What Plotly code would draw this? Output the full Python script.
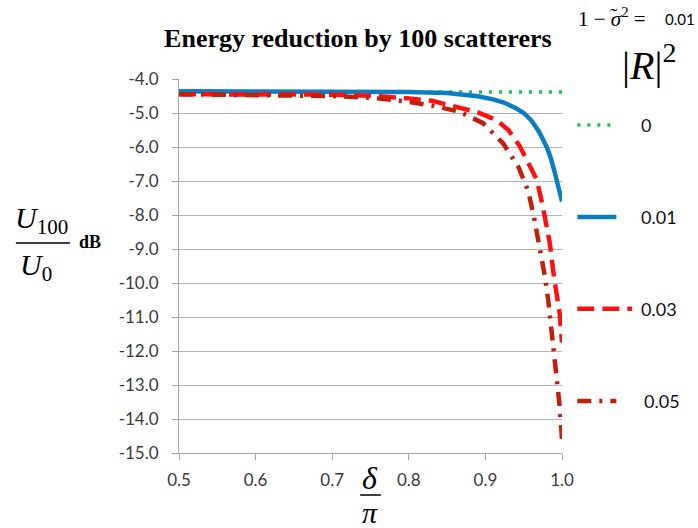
import plotly.graph_objects as go

# Energy reduction (dB) vs delta/pi for four reflection levels |R|^2
series_names = ["0", "0.01", "0.03", "0.05"]

x_r000 = [0.5, 0.6, 0.7, 0.8, 0.9, 1.0]
y_r000 = [-4.38, -4.38, -4.38, -4.38, -4.38, -4.38]

x_r001 = [0.5, 0.6, 0.7, 0.8, 0.85, 0.87, 0.89, 0.91, 0.925, 0.94, 0.95,
          0.96, 0.97, 0.98, 0.985, 0.99, 0.995, 1.0]
y_r001 = [-4.36, -4.36, -4.37, -4.38, -4.41, -4.45, -4.51, -4.6, -4.7, -4.86,
          -5.0, -5.22, -5.55, -6.0, -6.3, -6.7, -7.1, -7.6]

x_r003 = [0.5, 0.6, 0.7, 0.75, 0.775, 0.8, 0.83, 0.862, 0.89, 0.914, 0.93,
          0.945, 0.955, 0.967, 0.975, 0.984, 0.99, 0.997, 1.0]
y_r003 = [-4.45, -4.45, -4.46, -4.49, -4.52, -4.57, -4.64, -4.81, -4.98, -5.2,
          -5.5, -5.98, -6.4, -6.96, -7.75, -8.82, -9.9, -10.9, -11.75]

x_r005 = [0.5, 0.6, 0.7, 0.75, 0.797, 0.83, 0.866, 0.897, 0.923, 0.943, 0.956,
          0.964, 0.971, 0.977, 0.982, 0.986, 0.99, 0.993, 0.997, 1.0]
y_r005 = [-4.45, -4.46, -4.5, -4.55, -4.66, -4.78, -4.96, -5.3, -5.89, -6.58,
          -7.3, -8.13, -8.93, -9.72, -10.5, -11.3, -12.1, -12.93, -13.63, -14.6]

x_tick_vals = [0.5, 0.6, 0.7, 0.8, 0.9, 1.0]
x_tick_text = ["0.5", "0.6", "0.7", "0.8", "0.9", "1.0"]
y_tick_vals = [-4, -5, -6, -7, -8, -9, -10, -11, -12, -13, -14, -15]
y_tick_text = ["-4.0", "-5.0", "-6.0", "-7.0", "-8.0", "-9.0", "-10.0",
               "-11.0", "-12.0", "-13.0", "-14.0", "-15.0"]

xs = [x_r000, x_r001, x_r003, x_r005]
ys = [y_r000, y_r001, y_r003, y_r005]
colors = ["#1DC254", "#0B7DC2", "#FF1010", "#C0200A"]
dashes = ["3px,7px", "solid", "17px,8px", "14px,8px,3px,8px"]
widths = [3.5, 4.5, 4.5, 4.5]
# legend sample lengths (paper units) and row heights (data units)
sample_len = [0.097, 0.102, 0.143, 0.102]
legend_row = [-5.35, -8.06, -10.76, -13.47]

SANS = "Lato, 'Open Sans', sans-serif"
SERIF = "'Liberation Serif', 'Times New Roman', serif"
TICK_FONT = dict(family=SANS, size=17, color="#3a3a3a")

fig = go.Figure()
for i in range(4):
    fig.add_trace(go.Scatter(
        x=xs[i], y=ys[i], mode="lines", name=series_names[i],
        line=dict(color=colors[i], width=widths[i], dash=dashes[i]),
        showlegend=False,
    ))

shapes = []
annotations = []

# Hand-built legend on the right of the plot
for i in range(4):
    x0 = 1.04
    shapes.append(dict(type="line", xref="paper", yref="y",
                       x0=x0, x1=x0 + sample_len[i],
                       y0=legend_row[i], y1=legend_row[i],
                       line=dict(color=colors[i], width=widths[i], dash=dashes[i])))
    annotations.append(dict(xref="paper", yref="y",
                            x=1.202 if i != 3 else 1.21, y=legend_row[i],
                            text=series_names[i], showarrow=False,
                            xanchor="left", yanchor="middle",
                            font=dict(family=SANS, size=18, color="#111")))

# Legend heading: 1 - sigma~^2 = 0.01 and |R|^2
annotations.append(dict(xref="paper", yref="paper", x=1.036, y=1.165,
                        text="1 − <i>σ</i><sup>2</sup> =", showarrow=False,
                        xanchor="left", yanchor="middle",
                        font=dict(family=SERIF, size=21, color="#000")))
annotations.append(dict(xref="paper", yref="paper", x=1.137, y=1.171,
                        text="˜", showarrow=False,
                        xanchor="center", yanchor="middle",
                        font=dict(family=SERIF, size=22, color="#000")))
annotations.append(dict(xref="paper", yref="paper", x=1.263, y=1.16,
                        text="0.01", showarrow=False,
                        xanchor="left", yanchor="middle",
                        font=dict(family=SANS, size=15, color="#000")))
annotations.append(dict(xref="paper", yref="paper", x=1.152, y=1.045,
                        text="|<i>R</i>|<sup>2</sup>", showarrow=False,
                        xanchor="left", yanchor="middle",
                        font=dict(family=SERIF, size=40, color="#000")))

# Y-axis label as a fraction U100 / U0 with dB
annotations.append(dict(xref="paper", yref="paper", x=-0.36, y=0.622,
                        text="<i>U</i><sub>100</sub>", showarrow=False,
                        xanchor="center", yanchor="middle",
                        font=dict(family=SERIF, size=30, color="#000")))
annotations.append(dict(xref="paper", yref="paper", x=-0.373, y=0.497,
                        text="<i>U</i><sub>0</sub>", showarrow=False,
                        xanchor="center", yanchor="middle",
                        font=dict(family=SERIF, size=30, color="#000")))
shapes.append(dict(type="line", xref="paper", yref="paper",
                   x0=-0.426, x1=-0.285, y0=0.5615, y1=0.5615,
                   line=dict(color="#000", width=1.5)))
annotations.append(dict(xref="paper", yref="paper", x=-0.232, y=0.563,
                        text="<b>dB</b>", showarrow=False,
                        xanchor="center", yanchor="middle",
                        font=dict(family=SERIF, size=18, color="#000")))

# X-axis label as a fraction delta / pi
annotations.append(dict(xref="paper", yref="paper", x=0.4987, y=-0.068,
                        text="<i>δ</i>", showarrow=False,
                        xanchor="center", yanchor="middle",
                        font=dict(family=SERIF, size=32, color="#000")))
shapes.append(dict(type="line", xref="paper", yref="paper",
                   x0=0.473, x1=0.527, y0=-0.1123, y1=-0.1123,
                   line=dict(color="#000", width=1.5)))
annotations.append(dict(xref="paper", yref="paper", x=0.4987, y=-0.158,
                        text="<i>π</i>", showarrow=False,
                        xanchor="center", yanchor="middle",
                        font=dict(family=SERIF, size=30, color="#000")))

fig.update_layout(
    width=698, height=528,
    margin=dict(l=179, r=136, t=79, b=75),
    paper_bgcolor="white", plot_bgcolor="white",
    title=dict(text="<b>Energy reduction by 100 scatterers</b>",
               x=0.467, xref="paper", xanchor="center",
               y=0.928, yref="container", yanchor="middle",
               font=dict(family=SERIF, size=26, color="#000")),
    xaxis=dict(range=[0.5, 1.0], tickvals=x_tick_vals, ticktext=x_tick_text,
               showgrid=False, zeroline=False,
               showline=True, linecolor="#A6A6A6", linewidth=1,
               ticks="outside", ticklen=6, tickcolor="#A6A6A6",
               ticklabelstandoff=6, tickfont=TICK_FONT),
    yaxis=dict(range=[-15, -4], tickvals=y_tick_vals, ticktext=y_tick_text,
               showgrid=True, gridcolor="#B4B4B4", gridwidth=1, zeroline=False,
               showline=True, linecolor="#A6A6A6", linewidth=1,
               ticks="outside", ticklen=6, tickcolor="#A6A6A6",
               ticklabelstandoff=10, tickfont=TICK_FONT),
    shapes=shapes,
    annotations=annotations,
    showlegend=False,
)

fig.write_html("out.html")
